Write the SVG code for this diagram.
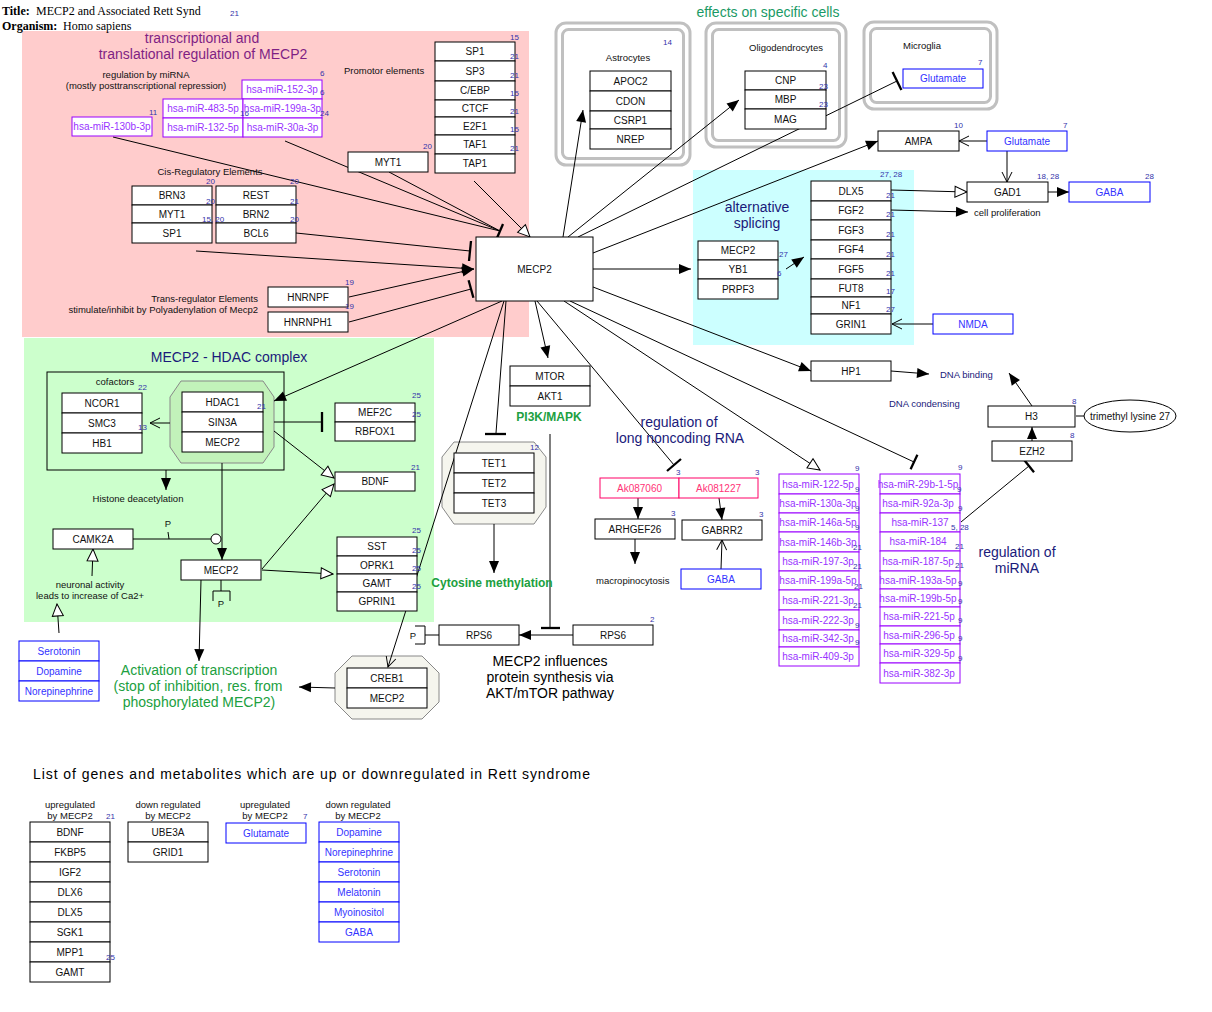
<svg xmlns="http://www.w3.org/2000/svg" width="1212" height="1012" viewBox="0 0 1212 1012">
<defs>
<style>
text{font-family:"Liberation Sans",Arial,sans-serif}
.serif{font-family:"Liberation Serif","Times New Roman",serif;font-size:12px}
.b rect{fill:#fff;stroke:#000;stroke-width:1}
.b text{font-size:10px;text-anchor:middle;fill:#111}
.m rect{stroke:#0000ff}
.m text{fill:#3333ff}
.r rect{stroke:#9900ff}
.r text{fill:#9933ff}
.k rect{stroke:#ff0066}
.k text{fill:#ff3377}
.n{font-size:8px;fill:#3333aa}
.l{font-size:9.5px;fill:#111}
.mid{text-anchor:middle}
.big{font-size:14px}
.db{fill:#1a1a7a}
.gr{fill:#20a040}
.c path{stroke:#000;stroke-width:1;fill:none}
.c .bar{stroke-width:2.3}
.cell{fill:none;stroke:#c0c0c0;stroke-width:3}
.oct{stroke:#888;stroke-width:1}
</style>
<marker id="af" markerUnits="userSpaceOnUse" markerWidth="14" markerHeight="12" viewBox="-13 -6 14 12" refX="0" refY="0" orient="auto"><path d="M0,0 L-12,-5 L-12,5 Z" fill="#000"/></marker>
<marker id="ao" markerUnits="userSpaceOnUse" markerWidth="15" markerHeight="14" viewBox="-14 -7 15 14" refX="0" refY="0" orient="auto"><path d="M0,0 L-12,-5.5 L-12,5.5 Z" fill="#fff" stroke="#000" stroke-width="1"/></marker>
<marker id="av" markerUnits="userSpaceOnUse" markerWidth="13" markerHeight="14" viewBox="-12 -7 13 14" refX="0" refY="0" orient="auto"><path d="M-10,-5 L0,0 L-10,5" fill="none" stroke="#000" stroke-width="1"/></marker>
</defs>
<rect width="1212" height="1012" fill="#fff"/>
<g id="regions">
<rect x="22" y="31" width="507" height="306" fill="#ffcccc"/>
<rect x="24" y="338" width="410" height="284" fill="#ccffcc"/>
<rect x="693" y="170" width="221" height="175" fill="#ccffff"/>
<rect class="cell" x="556" y="23" width="134" height="142" rx="10"/>
<rect class="cell" x="562.5" y="29.5" width="121" height="129" rx="6"/>
<rect class="cell" x="706" y="23" width="140" height="124" rx="10"/>
<rect class="cell" x="712.5" y="29.5" width="127" height="111" rx="6"/>
<rect class="cell" x="864" y="22" width="133" height="87" rx="10"/>
<rect class="cell" x="870.5" y="28.5" width="120" height="74" rx="6"/>
<rect x="47" y="372" width="237" height="98" fill="none" stroke="#000"/>
<polygon class="oct" points="181,381 263,381 274,397 274,447 263,463 181,463 170,447 170,397" fill="#c2f2ba"/>
<polygon class="oct" points="454,442 534,442 546,457 546,507 534,524 454,524 442,507 442,457" fill="#f5f5ee"/>
<polygon class="oct" points="352,656 422,656 439,673 439,702 422,719 352,719 335,702 335,673" fill="#f5f5ee"/>
</g>
<g id="connectors" class="c">
<path d="M113,137 L500,231"/>
<path d="M285,141 L500,231"/>
<path d="M389,172 L500,231"/>
<path class="bar" d="M503,224 L497,238"/>
<path d="M474,181 L530,237" marker-end="url(#ao)"/>
<path d="M296,233 L470,251"/>
<path class="bar" d="M471,241 L469,261"/>
<path d="M196,251 L474,269" marker-end="url(#af)"/>
<path d="M349,297 L474,269" marker-end="url(#af)"/>
<path d="M349,322 L471,289"/>
<path class="bar" d="M468.6,280.3 L473.4,297.7"/>
<path d="M563,237 L583,110" marker-end="url(#af)"/>
<path d="M568,237 L739,100" marker-end="url(#af)"/>
<path d="M578,237 L897,81"/>
<path class="bar" d="M892.6,72 L901.4,90"/>
<path d="M593,253 L878,141" marker-end="url(#af)"/>
<path d="M593,269 L691,269" marker-end="url(#af)"/>
<path d="M593,287 L811,371" marker-end="url(#af)"/>
<path d="M570,301 L914,462"/>
<path class="bar" d="M917.4,454.8 L910.6,469.2"/>
<path d="M564,301 L820,470" marker-end="url(#ao)"/>
<path d="M537,301 L674,465"/>
<path class="bar" d="M681,459 L667,471"/>
<path d="M535,301 L548,358" marker-end="url(#af)"/>
<path d="M502,301 L274,401" marker-end="url(#af)"/>
<path d="M506,301 L496,433"/>
<path class="bar" d="M485,434 L506,434"/>
<path d="M504,301 L388,667" marker-end="url(#av)"/>
<path d="M170,423 L150,423" marker-end="url(#av)"/>
<path d="M166,470 L166,490" marker-end="url(#af)"/>
<path d="M274,422 L322,422"/>
<path class="bar" d="M322,412 L322,432"/>
<path d="M274,431 L334,478" marker-end="url(#ao)"/>
<path d="M262,569 L334,484" marker-end="url(#ao)"/>
<path d="M262,570 L333,574" marker-end="url(#ao)"/>
<path d="M222,463 L222,560" marker-end="url(#af)"/>
<path d="M133,539 L211,539"/>
<path d="M168,532 L169,539"/>
<path d="M201,580 L199,661" marker-end="url(#af)"/>
<path d="M221,580 V591 M213,601 V591 H230 V601"/>
<path d="M92,576 L93,549" marker-end="url(#ao)"/>
<path d="M59,633 L57,604" marker-end="url(#ao)"/>
<path d="M335,688 L299,687" marker-end="url(#af)"/>
<path d="M494,524 L494,573" marker-end="url(#af)"/>
<path d="M550,434 L550,628"/>
<path class="bar" d="M541,628 L560,628"/>
<path d="M573,635 L519,635" marker-end="url(#af)"/>
<path d="M425,635 L439,635 M415,626 H425 V644 H415"/>
<path d="M638,498 L638,519" marker-end="url(#af)"/>
<path d="M719,498 L722,520" marker-end="url(#af)"/>
<path d="M635,539 L635,564" marker-end="url(#af)"/>
<path d="M721,569 L722,540" marker-end="url(#av)"/>
<path d="M786,269 L804,257" marker-end="url(#af)"/>
<path d="M891,190 L967,192" marker-end="url(#ao)"/>
<path d="M891,210 L968,212" marker-end="url(#af)"/>
<path d="M987,141 L959,141" marker-end="url(#av)"/>
<path d="M1007,151 L1007,182" marker-end="url(#av)"/>
<path d="M1047,192 L1069,192" marker-end="url(#af)"/>
<path d="M933,324 L892,324" marker-end="url(#av)"/>
<path d="M891,371 L929,374" marker-end="url(#af)"/>
<path d="M1032,406 L1009,373" marker-end="url(#af)"/>
<path d="M1032,441 L1032,427" marker-end="url(#af)"/>
<path d="M961,522 L1029,466"/>
<path class="bar" d="M1024,459.8 L1034,472.2"/>
<path d="M1076,416 L1084,416"/>
<circle cx="216" cy="539" r="5" fill="#fff" stroke="#000"/>
</g>
<g id="title">
<text class="serif" x="2" y="15"><tspan font-weight="bold">Title:</tspan><tspan x="36">MECP2 and Associated Rett Synd</tspan></text>
<text class="serif" x="2" y="30"><tspan font-weight="bold">Organism:</tspan><tspan x="63">Homo sapiens</tspan></text>
<text class="n" x="230" y="16">21</text>
</g>
<g id="n-mir152" class="b r"><rect x="242" y="80" width="80" height="19"/><text x="282" y="93">hsa-miR-152-3p</text></g>
<g id="n-mir483" class="b r"><rect x="163" y="99" width="80" height="19"/><text x="203" y="112">hsa-miR-483-5p</text></g>
<g id="n-mir199a3p" class="b r"><rect x="243" y="99" width="79" height="19"/><text x="282.5" y="112">hsa-miR-199a-3p</text></g>
<g id="n-mir132" class="b r"><rect x="163" y="118" width="80" height="19"/><text x="203" y="131">hsa-miR-132-5p</text></g>
<g id="n-mir30a" class="b r"><rect x="243" y="118" width="79" height="19"/><text x="282.5" y="131">hsa-miR-30a-3p</text></g>
<g id="n-mir130b" class="b r"><rect x="72" y="117" width="80" height="19"/><text x="112" y="130">hsa-miR-130b-3p</text></g>
<g id="n-brn3" class="b"><rect x="132" y="186" width="80" height="19"/><text x="172" y="199">BRN3</text></g>
<g id="n-myt1a" class="b"><rect x="132" y="205" width="80" height="18"/><text x="172" y="217.5">MYT1</text></g>
<g id="n-sp1a" class="b"><rect x="132" y="223" width="80" height="20"/><text x="172" y="236.5">SP1</text></g>
<g id="n-rest" class="b"><rect x="216" y="186" width="80" height="19"/><text x="256" y="199">REST</text></g>
<g id="n-brn2" class="b"><rect x="216" y="205" width="80" height="18"/><text x="256" y="217.5">BRN2</text></g>
<g id="n-bcl6" class="b"><rect x="216" y="223" width="80" height="20"/><text x="256" y="236.5">BCL6</text></g>
<g id="n-sp1b" class="b"><rect x="435" y="42" width="80" height="19"/><text x="475" y="55">SP1</text></g>
<g id="n-sp3" class="b"><rect x="435" y="61" width="80" height="20"/><text x="475" y="74.5">SP3</text></g>
<g id="n-cebp" class="b"><rect x="435" y="81" width="80" height="19"/><text x="475" y="94">C/EBP</text></g>
<g id="n-ctcf" class="b"><rect x="435" y="100" width="80" height="17"/><text x="475" y="112">CTCF</text></g>
<g id="n-e2f1" class="b"><rect x="435" y="117" width="80" height="18"/><text x="475" y="129.5">E2F1</text></g>
<g id="n-taf1" class="b"><rect x="435" y="135" width="80" height="19"/><text x="475" y="148">TAF1</text></g>
<g id="n-tap1" class="b"><rect x="435" y="154" width="80" height="19"/><text x="475" y="167">TAP1</text></g>
<g id="n-myt1b" class="b"><rect x="348" y="152" width="80" height="20"/><text x="388" y="165.5">MYT1</text></g>
<g id="n-hnrnpf" class="b"><rect x="268" y="287" width="80" height="20"/><text x="308" y="300.5">HNRNPF</text></g>
<g id="n-hnrnph1" class="b"><rect x="268" y="312" width="80" height="20"/><text x="308" y="325.5">HNRNPH1</text></g>
<g id="n-mecp2" class="b"><rect x="476" y="237" width="117" height="64"/><text x="534.5" y="272.5">MECP2</text></g>
<g id="n-apoc2" class="b"><rect x="590" y="71" width="81" height="20"/><text x="630.5" y="84.5">APOC2</text></g>
<g id="n-cdon" class="b"><rect x="590" y="91" width="81" height="20"/><text x="630.5" y="104.5">CDON</text></g>
<g id="n-csrp1" class="b"><rect x="590" y="111" width="81" height="18"/><text x="630.5" y="123.5">CSRP1</text></g>
<g id="n-nrep" class="b"><rect x="590" y="129" width="81" height="20"/><text x="630.5" y="142.5">NREP</text></g>
<g id="n-cnp" class="b"><rect x="745" y="71" width="81" height="19"/><text x="785.5" y="84">CNP</text></g>
<g id="n-mbp" class="b"><rect x="745" y="90" width="81" height="19"/><text x="785.5" y="103">MBP</text></g>
<g id="n-mag" class="b"><rect x="745" y="109" width="81" height="20"/><text x="785.5" y="122.5">MAG</text></g>
<g id="n-glu1" class="b m"><rect x="903" y="69" width="80" height="19"/><text x="943" y="82">Glutamate</text></g>
<g id="n-ampa" class="b"><rect x="878" y="131" width="81" height="20"/><text x="918.5" y="144.5">AMPA</text></g>
<g id="n-glu2" class="b m"><rect x="987" y="131" width="80" height="20"/><text x="1027" y="144.5">Glutamate</text></g>
<g id="n-gad1" class="b"><rect x="967" y="182" width="81" height="20"/><text x="1007.5" y="195.5">GAD1</text></g>
<g id="n-gaba1" class="b m"><rect x="1069" y="182" width="81" height="20"/><text x="1109.5" y="195.5">GABA</text></g>
<g id="n-mecp2s" class="b"><rect x="698" y="241" width="80" height="19"/><text x="738" y="254">MECP2</text></g>
<g id="n-yb1" class="b"><rect x="698" y="260" width="80" height="19"/><text x="738" y="273">YB1</text></g>
<g id="n-prpf3" class="b"><rect x="698" y="279" width="80" height="20"/><text x="738" y="292.5">PRPF3</text></g>
<g id="n-dlx5" class="b"><rect x="811" y="181" width="80" height="20"/><text x="851" y="194.5">DLX5</text></g>
<g id="n-fgf2" class="b"><rect x="811" y="201" width="80" height="19"/><text x="851" y="214">FGF2</text></g>
<g id="n-fgf3" class="b"><rect x="811" y="220" width="80" height="20"/><text x="851" y="233.5">FGF3</text></g>
<g id="n-fgf4" class="b"><rect x="811" y="240" width="80" height="19"/><text x="851" y="253">FGF4</text></g>
<g id="n-fgf5" class="b"><rect x="811" y="259" width="80" height="20"/><text x="851" y="272.5">FGF5</text></g>
<g id="n-fut8" class="b"><rect x="811" y="279" width="80" height="18"/><text x="851" y="291.5">FUT8</text></g>
<g id="n-nf1" class="b"><rect x="811" y="297" width="80" height="17"/><text x="851" y="309">NF1</text></g>
<g id="n-grin1" class="b"><rect x="811" y="314" width="80" height="20"/><text x="851" y="327.5">GRIN1</text></g>
<g id="n-nmda" class="b m"><rect x="933" y="314" width="80" height="20"/><text x="973" y="327.5">NMDA</text></g>
<g id="n-hp1" class="b"><rect x="811" y="361" width="80" height="20"/><text x="851" y="374.5">HP1</text></g>
<g id="n-h3" class="b"><rect x="988" y="406" width="87" height="21"/><text x="1031.5" y="420">H3</text></g>
<g id="n-trimethyl" class="b"><ellipse cx="1130" cy="416" rx="46" ry="16" fill="#fff" stroke="#000"/><text x="1130" y="419.5">trimethyl lysine 27</text></g>
<g id="n-ezh2" class="b"><rect x="992" y="441" width="80" height="20"/><text x="1032" y="454.5">EZH2</text></g>
<g id="n-mtor" class="b"><rect x="510" y="366" width="80" height="20"/><text x="550" y="379.5">MTOR</text></g>
<g id="n-akt1" class="b"><rect x="510" y="386" width="80" height="20"/><text x="550" y="399.5">AKT1</text></g>
<g id="n-ak087060" class="b k"><rect x="600" y="478" width="79" height="20"/><text x="639.5" y="491.5">Ak087060</text></g>
<g id="n-ak081227" class="b k"><rect x="679" y="478" width="79" height="20"/><text x="718.5" y="491.5">Ak081227</text></g>
<g id="n-arhgef26" class="b"><rect x="595" y="519" width="80" height="20"/><text x="635" y="532.5">ARHGEF26</text></g>
<g id="n-gabrr2" class="b"><rect x="682" y="520" width="80" height="20"/><text x="722" y="533.5">GABRR2</text></g>
<g id="n-gaba2" class="b m"><rect x="681" y="569" width="80" height="20"/><text x="721" y="582.5">GABA</text></g>
<g id="n-mir122" class="b r"><rect x="779" y="474" width="80" height="20"/><text x="818" y="487.5">hsa-miR-122-5p</text></g>
<g id="n-mir130a" class="b r"><rect x="779" y="494" width="80" height="19"/><text x="818" y="507">hsa-miR-130a-3p</text></g>
<g id="n-mir146a" class="b r"><rect x="779" y="513" width="80" height="19"/><text x="818" y="526">hsa-miR-146a-5p</text></g>
<g id="n-mir146b" class="b r"><rect x="779" y="532" width="80" height="20"/><text x="818" y="545.5">hsa-miR-146b-3p</text></g>
<g id="n-mir197" class="b r"><rect x="779" y="552" width="80" height="19"/><text x="818" y="565">hsa-miR-197-3p</text></g>
<g id="n-mir199a5p" class="b r"><rect x="779" y="571" width="80" height="19"/><text x="818" y="584">hsa-miR-199a-5p</text></g>
<g id="n-mir221-3p" class="b r"><rect x="779" y="590" width="80" height="20"/><text x="818" y="603.5">hsa-miR-221-3p</text></g>
<g id="n-mir222" class="b r"><rect x="779" y="610" width="80" height="20"/><text x="818" y="623.5">hsa-miR-222-3p</text></g>
<g id="n-mir342" class="b r"><rect x="779" y="630" width="80" height="17"/><text x="818" y="642">hsa-miR-342-3p</text></g>
<g id="n-mir409" class="b r"><rect x="779" y="647" width="80" height="19"/><text x="818" y="660">hsa-miR-409-3p</text></g>
<g id="n-mir29b" class="b r"><rect x="880" y="474" width="80" height="20"/><text x="918" y="487.5">hsa-miR-29b-1-5p</text></g>
<g id="n-mir92a" class="b r"><rect x="880" y="494" width="80" height="19"/><text x="918" y="507">hsa-miR-92a-3p</text></g>
<g id="n-mir137" class="b r"><rect x="880" y="513" width="80" height="19"/><text x="920" y="526">hsa-miR-137</text></g>
<g id="n-mir184" class="b r"><rect x="880" y="532" width="80" height="19"/><text x="918" y="545">hsa-miR-184</text></g>
<g id="n-mir187" class="b r"><rect x="880" y="551" width="80" height="20"/><text x="918" y="564.5">hsa-miR-187-5p</text></g>
<g id="n-mir193a" class="b r"><rect x="880" y="571" width="80" height="18"/><text x="918" y="583.5">hsa-miR-193a-5p</text></g>
<g id="n-mir199b" class="b r"><rect x="880" y="589" width="80" height="18"/><text x="918" y="601.5">hsa-miR-199b-5p</text></g>
<g id="n-mir221-5p" class="b r"><rect x="880" y="607" width="80" height="19"/><text x="919" y="620">hsa-miR-221-5p</text></g>
<g id="n-mir296" class="b r"><rect x="880" y="626" width="80" height="18"/><text x="919" y="638.5">hsa-miR-296-5p</text></g>
<g id="n-mir329" class="b r"><rect x="880" y="644" width="80" height="19"/><text x="919" y="657">hsa-miR-329-5p</text></g>
<g id="n-mir382" class="b r"><rect x="880" y="663" width="80" height="20"/><text x="919" y="676.5">hsa-miR-382-3p</text></g>
<g id="n-ncor1" class="b"><rect x="62" y="393" width="80" height="20"/><text x="102" y="406.5">NCOR1</text></g>
<g id="n-smc3" class="b"><rect x="62" y="413" width="80" height="20"/><text x="102" y="426.5">SMC3</text></g>
<g id="n-hb1" class="b"><rect x="62" y="433" width="80" height="20"/><text x="102" y="446.5">HB1</text></g>
<g id="n-hdac1" class="b"><rect x="182" y="392" width="81" height="20"/><text x="222.5" y="405.5">HDAC1</text></g>
<g id="n-sin3a" class="b"><rect x="182" y="412" width="81" height="20"/><text x="222.5" y="425.5">SIN3A</text></g>
<g id="n-mecp2h" class="b"><rect x="182" y="432" width="81" height="20"/><text x="222.5" y="445.5">MECP2</text></g>
<g id="n-mef2c" class="b"><rect x="335" y="403" width="80" height="19"/><text x="375" y="416">MEF2C</text></g>
<g id="n-rbfox1" class="b"><rect x="335" y="422" width="80" height="19"/><text x="375" y="435">RBFOX1</text></g>
<g id="n-bdnf" class="b"><rect x="335" y="472" width="80" height="19"/><text x="375" y="485">BDNF</text></g>
<g id="n-sst" class="b"><rect x="337" y="537" width="80" height="19"/><text x="377" y="550">SST</text></g>
<g id="n-oprk1" class="b"><rect x="337" y="556" width="80" height="18"/><text x="377" y="568.5">OPRK1</text></g>
<g id="n-gamt" class="b"><rect x="337" y="574" width="80" height="18"/><text x="377" y="586.5">GAMT</text></g>
<g id="n-gprin1" class="b"><rect x="337" y="592" width="80" height="19"/><text x="377" y="605">GPRIN1</text></g>
<g id="n-camk2a" class="b"><rect x="53" y="529" width="80" height="20"/><text x="93" y="542.5">CAMK2A</text></g>
<g id="n-mecp2p" class="b"><rect x="181" y="560" width="80" height="20"/><text x="221" y="573.5">MECP2</text></g>
<g id="n-serotonin1" class="b m"><rect x="19" y="641" width="80" height="20"/><text x="59" y="654.5">Serotonin</text></g>
<g id="n-dopamine1" class="b m"><rect x="19" y="661" width="80" height="20"/><text x="59" y="674.5">Dopamine</text></g>
<g id="n-norepi1" class="b m"><rect x="19" y="681" width="80" height="20"/><text x="59" y="694.5">Norepinephrine</text></g>
<g id="n-creb1" class="b"><rect x="347" y="668" width="80" height="20"/><text x="387" y="681.5">CREB1</text></g>
<g id="n-mecp2c" class="b"><rect x="347" y="688" width="80" height="20"/><text x="387" y="701.5">MECP2</text></g>
<g id="n-tet1" class="b"><rect x="454" y="453" width="80" height="20"/><text x="494" y="466.5">TET1</text></g>
<g id="n-tet2" class="b"><rect x="454" y="473" width="80" height="20"/><text x="494" y="486.5">TET2</text></g>
<g id="n-tet3" class="b"><rect x="454" y="493" width="80" height="20"/><text x="494" y="506.5">TET3</text></g>
<g id="n-rps6a" class="b"><rect x="439" y="625" width="80" height="20"/><text x="479" y="638.5">RPS6</text></g>
<g id="n-rps6b" class="b"><rect x="573" y="625" width="80" height="20"/><text x="613" y="638.5">RPS6</text></g>
<g id="n-l-bdnf" class="b"><rect x="30" y="822" width="80" height="20"/><text x="70" y="835.5">BDNF</text></g>
<g id="n-l-fkbp5" class="b"><rect x="30" y="842" width="80" height="20"/><text x="70" y="855.5">FKBP5</text></g>
<g id="n-l-igf2" class="b"><rect x="30" y="862" width="80" height="20"/><text x="70" y="875.5">IGF2</text></g>
<g id="n-l-dlx6" class="b"><rect x="30" y="882" width="80" height="20"/><text x="70" y="895.5">DLX6</text></g>
<g id="n-l-dlx5" class="b"><rect x="30" y="902" width="80" height="20"/><text x="70" y="915.5">DLX5</text></g>
<g id="n-l-sgk1" class="b"><rect x="30" y="922" width="80" height="20"/><text x="70" y="935.5">SGK1</text></g>
<g id="n-l-mpp1" class="b"><rect x="30" y="942" width="80" height="20"/><text x="70" y="955.5">MPP1</text></g>
<g id="n-l-gamt" class="b"><rect x="30" y="962" width="80" height="20"/><text x="70" y="975.5">GAMT</text></g>
<g id="n-l-ube3a" class="b"><rect x="128" y="822" width="80" height="20"/><text x="168" y="835.5">UBE3A</text></g>
<g id="n-l-grid1" class="b"><rect x="128" y="842" width="80" height="20"/><text x="168" y="855.5">GRID1</text></g>
<g id="n-l-glu" class="b m"><rect x="226" y="823" width="80" height="20"/><text x="266" y="836.5">Glutamate</text></g>
<g id="n-l-dopamine" class="b m"><rect x="319" y="822" width="80" height="20"/><text x="359" y="835.5">Dopamine</text></g>
<g id="n-l-norepi" class="b m"><rect x="319" y="842" width="80" height="20"/><text x="359" y="855.5">Norepinephrine</text></g>
<g id="n-l-serotonin" class="b m"><rect x="319" y="862" width="80" height="20"/><text x="359" y="875.5">Serotonin</text></g>
<g id="n-l-melatonin" class="b m"><rect x="319" y="882" width="80" height="20"/><text x="359" y="895.5">Melatonin</text></g>
<g id="n-l-myoinositol" class="b m"><rect x="319" y="902" width="80" height="20"/><text x="359" y="915.5">Myoinositol</text></g>
<g id="n-l-gaba" class="b m"><rect x="319" y="922" width="80" height="20"/><text x="359" y="935.5">GABA</text></g>
<g id="labels">
<text class="big mid" x="202" y="43" fill="#7f1f84">transcriptional and</text>
<text class="big mid" x="203" y="59" fill="#7f1f84">translational regulation of MECP2</text>
<text class="l mid" x="146" y="78">regulation by miRNA</text>
<text class="l mid" x="146" y="89">(mostly posttranscriptional repression)</text>
<text class="l" x="344" y="74">Promotor elements</text>
<text class="l mid" x="210" y="175">Cis-Regulatory Elements</text>
<text class="l" x="258" y="302" text-anchor="end">Trans-regulator Elements</text>
<text class="l" x="258" y="313" text-anchor="end">stimulate/inhibit by Polyadenylation of Mecp2</text>
<text class="big mid" x="768" y="17" fill="#1a9a66">effects on specific cells</text>
<text class="l mid" x="628" y="61">Astrocytes</text>
<text class="l mid" x="786" y="51">Oligodendrocytes</text>
<text class="l mid" x="922" y="49">Microglia</text>
<text class="l" x="974" y="216">cell proliferation</text>
<text class="big mid db" x="757" y="212">alternative</text>
<text class="big mid db" x="757" y="228">splicing</text>
<text class="l db" x="940" y="378">DNA binding</text>
<text class="l db" x="889" y="407">DNA condensing</text>
<text class="mid gr" x="549" y="421" font-size="12" font-weight="bold">PI3K/MAPK</text>
<text class="big mid db" x="679" y="427">regulation of</text>
<text class="big mid db" x="680" y="443">long noncoding RNA</text>
<text class="l" x="596" y="584" font-size="9">macropinocytosis</text>
<text class="big mid db" x="1017" y="557">regulation of</text>
<text class="big mid db" x="1017" y="573">miRNA</text>
<text class="big mid db" x="229" y="362">MECP2 - HDAC complex</text>
<text class="l mid" x="115" y="385">cofactors</text>
<text class="l mid" x="138" y="502">Histone deacetylation</text>
<text class="l mid" x="168" y="527">P</text>
<text class="l mid" x="221" y="607">P</text>
<text class="l mid" x="90" y="588">neuronal activity</text>
<text class="l mid" x="90" y="599">leads to increase of Ca2+</text>
<text class="big mid gr" x="199" y="675">Activation of transcription</text>
<text class="big mid gr" x="198" y="691">(stop of inhibition, res. from</text>
<text class="big mid gr" x="199" y="707">phosphorylated MECP2)</text>
<text class="mid gr" x="492" y="587" font-size="12" font-weight="bold">Cytosine methylation</text>
<text class="l mid" x="413" y="639">P</text>
<text class="big mid" x="550" y="666">MECP2 influences</text>
<text class="big mid" x="550" y="682">protein synthesis via</text>
<text class="big mid" x="550" y="698">AKT/mTOR pathway</text>
<text class="big" x="33" y="779" textLength="557" lengthAdjust="spacing">List of genes and metabolites which are up or downregulated in Rett syndrome</text>
<text class="l mid" x="70" y="808" font-size="9">upregulated</text>
<text class="l mid" x="70" y="819" font-size="9">by MECP2</text>
<text class="l mid" x="168" y="808" font-size="9">down regulated</text>
<text class="l mid" x="168" y="819" font-size="9">by MECP2</text>
<text class="l mid" x="265" y="808" font-size="9">upregulated</text>
<text class="l mid" x="265" y="819" font-size="9">by MECP2</text>
<text class="l mid" x="358" y="808" font-size="9">down regulated</text>
<text class="l mid" x="358" y="819" font-size="9">by MECP2</text>
</g>
<g id="refs" class="n">
<text x="320" y="76">6</text><text x="320" y="95">6</text><text x="240" y="116">16</text><text x="320" y="116">24</text><text x="149" y="115">11</text>
<text x="206" y="184">20</text><text x="290" y="184">20</text><text x="206" y="204">20</text><text x="290" y="204">21</text><text x="202" y="222">15, 20</text><text x="290" y="222">20</text>
<text x="510" y="40">15</text><text x="510" y="59">21</text><text x="510" y="78">21</text><text x="510" y="96">15</text><text x="510" y="114">21</text><text x="510" y="132">15</text><text x="510" y="151">21</text>
<text x="423" y="149">20</text><text x="345" y="285">19</text><text x="345" y="309">19</text>
<text x="663" y="45">14</text><text x="823" y="68">4</text><text x="819" y="89">23</text><text x="819" y="107">23</text><text x="978" y="65">7</text>
<text x="954" y="128">10</text><text x="1063" y="128">7</text><text x="1037" y="179">18, 28</text><text x="1145" y="179">28</text>
<text x="779" y="257">27</text><text x="777" y="276">6</text>
<text x="880" y="177">27, 28</text><text x="886" y="198">21</text><text x="886" y="217">21</text><text x="886" y="237">21</text><text x="886" y="257">21</text><text x="886" y="276">21</text><text x="886" y="294">17</text><text x="886" y="312">27</text>
<text x="1072" y="404">8</text><text x="1070" y="438">8</text>
<text x="530" y="450">12</text><text x="676" y="475">3</text><text x="755" y="475">3</text><text x="671" y="516">3</text><text x="759" y="517">3</text><text x="650" y="622">2</text>
<text x="855" y="471">9</text><text x="855" y="492">9</text><text x="855" y="511">9</text><text x="855" y="530">9</text><text x="853" y="550">21</text><text x="853" y="569">21</text><text x="854" y="589">21</text><text x="853" y="608">21</text><text x="855" y="628">9</text><text x="855" y="645">9</text>
<text x="958" y="470">9</text><text x="957" y="492">9</text><text x="958" y="511">9</text><text x="951" y="530">5, 28</text><text x="955" y="549">21</text><text x="955" y="568">21</text><text x="958" y="586">9</text><text x="958" y="604">9</text><text x="958" y="623">9</text><text x="958" y="641">9</text><text x="958" y="661">9</text>
<text x="138" y="390">22</text><text x="138" y="430">13</text><text x="257" y="409">21</text><text x="412" y="398">25</text><text x="412" y="417">25</text><text x="411" y="470">21</text>
<text x="412" y="533">25</text><text x="412" y="553">25</text><text x="412" y="571">25</text><text x="412" y="589">25</text>
<text x="106" y="819">21</text><text x="106" y="960">25</text><text x="303" y="819">7</text>
</g>
</svg>
